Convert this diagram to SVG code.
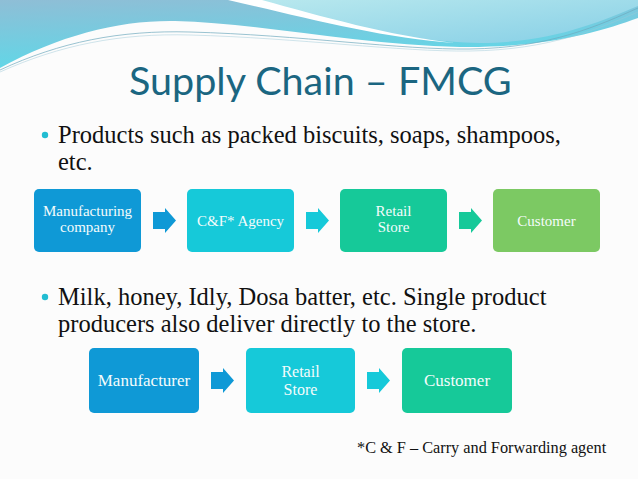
<svg xmlns="http://www.w3.org/2000/svg" width="638" height="479" viewBox="0 0 638 479">
  <defs>
    <linearGradient id="hdrBlue" x1="0" y1="0" x2="0.3" y2="1">
      <stop offset="0" stop-color="#8FBED6"/>
      <stop offset="1" stop-color="#5ED8E8"/>
    </linearGradient>
    <linearGradient id="hdrLight" x1="0" y1="0" x2="1" y2="1">
      <stop offset="0" stop-color="#B8E8EE"/>
      <stop offset="1" stop-color="#86CFE6"/>
    </linearGradient>
    <path id="arrowShape" d="M0,4 H12 V0 L23,12.5 L12,25 V21 H0 Z"/>
  </defs>
  <style>
    .title { font-family: Lato, "Open Sans", sans-serif; font-size: 39.5px; fill: #1B6681; }
    .body { font-family: "Liberation Serif", serif; font-size: 24.5px; fill: #111111; }
    .note { font-family: "Liberation Serif", serif; font-size: 16.3px; fill: #111111; }
    .lbl1 { font-family: "Liberation Serif", serif; font-size: 15px; fill: #F4FCFC; text-anchor: middle; }
    .lbl2 { font-family: "Liberation Serif", serif; font-size: 17px; fill: #F4FCFC; text-anchor: middle; }
    .lbl2s { font-family: "Liberation Serif", serif; font-size: 16px; fill: #F4FCFC; text-anchor: middle; }
    .bullet { fill: #22BDD2; }
    .blue { fill: #0F99D6; }
    .cyan { fill: #16C9D9; }
    .teal { fill: #16C999; }
    .green { fill: #7CC963; }
  </style>

  <rect x="0" y="0" width="638" height="479" fill="#FCFCFC"/>

  <!-- header waves -->
  <path d="M0,0 H638 V18 C600,32 545,48 460,47 C360,45 260,23 175,21 C120,20 60,35 0,68 Z" fill="url(#hdrBlue)"/>
  <path d="M255,0 C320,18 400,42 480,43 C550,43 600,22 638,6 V0 Z" fill="url(#hdrLight)"/>
  <path d="M228,0 L262,0 C320,16 390,36 455,43 C380,38 300,16 228,0 Z" fill="#FFFFFF"/>
  <path d="M0,70 C60,42 120,30 190,32 C300,35 400,50 470,49 C550,48 600,25 638,8" fill="none" stroke="#6FA9BE" stroke-width="1" opacity="0.7"/>
  <path d="M0,72 C60,45 120,33 190,35 C300,38 400,52 470,51 C550,50 600,28 638,12" fill="none" stroke="#9CC9D6" stroke-width="0.8" opacity="0.6"/>

  <text class="title" x="129" y="95">Supply Chain – FMCG</text>

  <circle class="bullet" cx="45" cy="135" r="3.2"/>
  <text class="body" x="58" y="143">Products such as packed biscuits, soaps, shampoos,</text>
  <text class="body" x="58" y="170">etc.</text>

  <circle class="bullet" cx="45" cy="297" r="3.2"/>
  <text class="body" x="58" y="305">Milk, honey, Idly, Dosa batter, etc. Single product</text>
  <text class="body" x="58" y="332">producers also deliver directly to the store.</text>

  <g id="connectors">
    <use href="#arrowShape" class="blue" x="153" y="208"/>
    <use href="#arrowShape" class="cyan" x="306" y="208"/>
    <use href="#arrowShape" class="teal" x="459" y="208"/>
    <use href="#arrowShape" class="blue" x="211" y="368"/>
    <use href="#arrowShape" class="cyan" x="367" y="368"/>
  </g>

  <g id="node-manufacturing-company">
    <rect class="blue" x="34" y="189" width="107" height="63" rx="5"/>
    <text class="lbl1" x="87.5" y="216">Manufacturing</text>
    <text class="lbl1" x="87.5" y="232">company</text>
  </g>
  <g id="node-cf-agency">
    <rect class="cyan" x="187" y="189" width="107" height="63" rx="5"/>
    <text class="lbl1" x="240.5" y="226">C&amp;F* Agency</text>
  </g>
  <g id="node-retail-store-1">
    <rect class="teal" x="340" y="189" width="107" height="63" rx="5"/>
    <text class="lbl1" x="393.5" y="216">Retail</text>
    <text class="lbl1" x="393.5" y="232">Store</text>
  </g>
  <g id="node-customer-1">
    <rect class="green" x="493" y="189" width="107" height="63" rx="5"/>
    <text class="lbl1" x="546.5" y="226">Customer</text>
  </g>

  <g id="node-manufacturer">
    <rect class="blue" x="89" y="348" width="110" height="65" rx="5"/>
    <text class="lbl2" x="144" y="386">Manufacturer</text>
  </g>
  <g id="node-retail-store-2">
    <rect class="cyan" x="246" y="348" width="109" height="65" rx="5"/>
    <text class="lbl2s" x="300.5" y="377">Retail</text>
    <text class="lbl2s" x="300.5" y="395">Store</text>
  </g>
  <g id="node-customer-2">
    <rect class="teal" x="402" y="348" width="110" height="65" rx="5"/>
    <text class="lbl2" x="457" y="386">Customer</text>
  </g>

  <text class="note" x="357" y="453">*C &amp; F – Carry and Forwarding agent</text>
</svg>
